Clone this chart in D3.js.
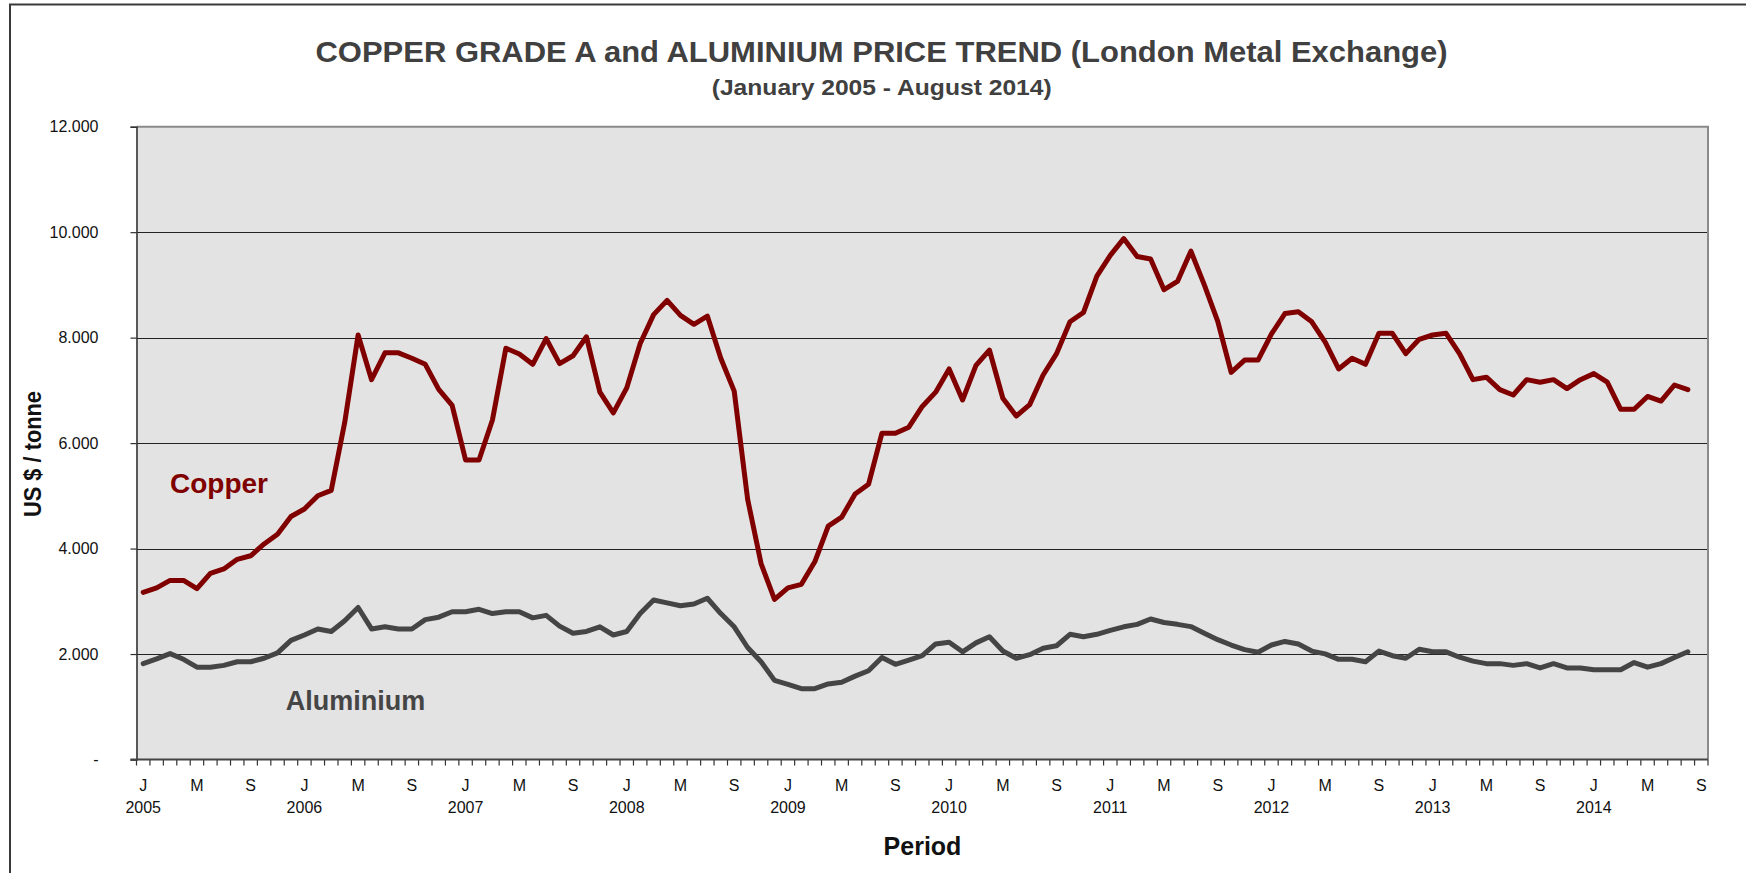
<!DOCTYPE html>
<html>
<head>
<meta charset="utf-8">
<script src="https://cdn.jsdelivr.net/npm/d3@7"></script>
<style>
html,body{margin:0;padding:0;background:#fff;}
svg{display:block;}
text{font-family:"Liberation Sans",Arial,Helvetica,sans-serif;}
</style>
</head>
<body>
<svg id="chart" width="1746" height="873"></svg>
<script>
// ---------------- DATA ----------------
const years = [2005, 2006, 2007, 2008, 2009, 2010, 2011, 2012, 2013, 2014];
const monthLetters = ["J","F","M","A","M","J","J","A","S","O","N","D"];
const labelledMonths = [0, 4, 8];           // J, M, S shown on the axis
const lastYearMonths = 9;                    // 2014: Jan..Sep (Sep empty)

// LME monthly prices, US $ / tonne, Jan 2005 - Aug 2014
const copper = [
  3170,3254,3396,3396,3240,3531,3613,3796,3863,4087,4270,4609,
  4751,5002,5104,6390,8050,7203,7711,7711,7609,7494,7020,6715,
  5679,5679,6437,7799,7690,7494,7982,7508,7657,8016,6966,6573,
  7047,7888,8436,8707,8422,8253,8409,7609,6986,4934,3715,3037,
  3254,3322,3749,4426,4595,5036,5218,6187,6187,6302,6695,6966,
  7406,6817,7474,7765,6851,6512,6729,7291,7697,8300,8476,9167,
  9560,9878,9539,9492,8910,9065,9640,9000,8310,7340,7575,7575,
  8070,8456,8490,8300,7914,7406,7609,7494,8083,8083,7697,7968,
  8050,8083,7697,7203,7250,7013,6912,7203,7155,7203,7034,7203,
  7318,7155,6641,6641,6885,6797,7102,7013
];
const aluminium = [
  1818,1907,2008,1900,1751,1751,1785,1853,1853,1920,2022,2259,
  2361,2476,2428,2632,2882,2476,2516,2476,2476,2652,2699,2801,
  2801,2848,2767,2801,2801,2686,2733,2530,2394,2428,2516,2361,
  2428,2767,3024,2970,2916,2950,3058,2767,2516,2124,1853,1500,
  1426,1344,1344,1432,1466,1581,1683,1934,1805,1886,1968,2191,
  2225,2042,2212,2327,2056,1920,1988,2110,2157,2374,2327,2374,
  2449,2516,2563,2665,2598,2563,2520,2394,2272,2171,2083,2035,
  2171,2239,2191,2056,2002,1900,1900,1853,2056,1968,1920,2090,
  2042,2042,1940,1866,1818,1818,1785,1818,1737,1818,1737,1737,
  1703,1703,1703,1839,1751,1818,1933,2042
];
const yTicks = [0, 2000, 4000, 6000, 8000, 10000, 12000];
const yTickLabels = ["-", "2.000", "4.000", "6.000", "8.000", "10.000", "12.000"];

const titleText = "COPPER GRADE A and ALUMINIUM PRICE TREND (London Metal Exchange)";
const subtitleText = "(January 2005 - August 2014)";
const yTitle = "US $ / tonne";
const xTitle = "Period";
const seriesNames = ["Copper", "Aluminium"];

// ---------------- BUILD CATEGORIES ----------------
const periods = [];
years.forEach((y, yi) => {
  const n = (yi === years.length - 1) ? lastYearMonths : 12;
  for (let m = 0; m < n; m++) periods.push({year: y, month: m, key: y + "-" + (m + 1)});
});

// ---------------- LAYOUT ----------------
const svg = d3.select("#chart");
const plot = {left: 136.5, right: 1708, top: 126.7, bottom: 759.5};

const x = d3.scaleBand().domain(periods.map(d => d.key)).range([plot.left, plot.right]).padding(0);
const y = d3.scaleLinear().domain([0, 12000]).range([plot.bottom, plot.top]);
const xc = k => x(k) + x.bandwidth() / 2;

// outer frame (top + left visible)
svg.append("path")
  .attr("d", `M10,873 V4.5 H1746`)
  .attr("fill", "none").attr("stroke", "#3a3a3a").attr("stroke-width", 2);

// plot background
svg.append("rect")
  .attr("x", plot.left).attr("y", plot.top)
  .attr("width", plot.right - plot.left).attr("height", plot.bottom - plot.top)
  .attr("fill", "#e3e3e3");

// gridlines
svg.append("g").selectAll("line")
  .data(yTicks.filter(v => v > 0 && v < 12000))
  .join("line")
  .attr("x1", plot.left).attr("x2", plot.right)
  .attr("y1", d => Math.round(y(d)) + 0.5).attr("y2", d => Math.round(y(d)) + 0.5)
  .attr("stroke", "#222").attr("stroke-width", 1);

// plot border top + right (gray)
svg.append("path")
  .attr("d", `M${plot.left},${plot.top} H${plot.right} V${plot.bottom}`)
  .attr("fill", "none").attr("stroke", "#8a8a8a").attr("stroke-width", 2);

// y axis
const yAxis = d3.axisLeft(y).tickValues(yTicks).tickSize(6).tickPadding(32)
  .tickFormat((d, i) => yTickLabels[i]);
const gy = svg.append("g").attr("transform", `translate(${plot.left},0)`).call(yAxis);
gy.select(".domain").attr("stroke", "#333").attr("stroke-width", 1.6);
gy.selectAll(".tick line").attr("stroke", "#333").attr("stroke-width", 1.2);
gy.selectAll(".tick text").attr("font-size", 16).attr("fill", "#111")
  .attr("font-family", '"Liberation Sans",Arial,Helvetica,sans-serif');

// x axis line + ticks at month boundaries
const boundaries = d3.range(periods.length + 1);
svg.append("g").selectAll("line")
  .data(boundaries)
  .join("line")
  .attr("x1", i => plot.left + i * x.step()).attr("x2", i => plot.left + i * x.step())
  .attr("y1", plot.bottom).attr("y2", plot.bottom + 6)
  .attr("stroke", "#333").attr("stroke-width", 1.2);
svg.append("line")
  .attr("x1", plot.left - 6).attr("x2", plot.right)
  .attr("y1", plot.bottom).attr("y2", plot.bottom)
  .attr("stroke", "#444").attr("stroke-width", 2);

// x labels
const labelled = periods.filter(d => labelledMonths.includes(d.month));
svg.append("g").selectAll("text")
  .data(labelled)
  .join("text")
  .attr("x", d => xc(d.key)).attr("y", 791)
  .attr("text-anchor", "middle").attr("font-size", 16).attr("fill", "#111")
  .text(d => monthLetters[d.month]);
svg.append("g").selectAll("text")
  .data(periods.filter(d => d.month === 0))
  .join("text")
  .attr("x", d => xc(d.key)).attr("y", 813)
  .attr("text-anchor", "middle").attr("font-size", 16).attr("fill", "#111")
  .text(d => d.year);

// lines
const line = d3.line().x((d, i) => xc(periods[i].key)).y(d => y(d));
svg.append("path").datum(aluminium)
  .attr("d", line).attr("fill", "none")
  .attr("stroke", "#454545").attr("stroke-width", 5)
  .attr("stroke-linejoin", "round").attr("stroke-linecap", "round");
svg.append("path").datum(copper)
  .attr("d", line).attr("fill", "none")
  .attr("stroke", "#800000").attr("stroke-width", 5)
  .attr("stroke-linejoin", "round").attr("stroke-linecap", "round");

// series labels
svg.append("text").attr("x", 170).attr("y", 493)
  .attr("font-size", 28).attr("font-weight", "bold").attr("fill", "#800000")
  .text(seriesNames[0]);
svg.append("text").attr("x", 285.7).attr("y", 710)
  .attr("font-size", 27).attr("font-weight", "bold").attr("fill", "#454545")
  .text(seriesNames[1]);

// titles
svg.append("text").attr("x", 881.5).attr("y", 61.7)
  .attr("text-anchor", "middle").attr("font-size", 30).attr("font-weight", "bold")
  .attr("fill", "#404040").attr("textLength", 1132).attr("lengthAdjust", "spacingAndGlyphs")
  .text(titleText);
svg.append("text").attr("x", 881.7).attr("y", 95)
  .attr("text-anchor", "middle").attr("font-size", 22).attr("font-weight", "bold")
  .attr("fill", "#404040").attr("textLength", 340).attr("lengthAdjust", "spacingAndGlyphs")
  .text(subtitleText);

// axis titles
svg.append("text")
  .attr("transform", `translate(40.5,454) rotate(-90)`)
  .attr("text-anchor", "middle").attr("font-size", 24).attr("font-weight", "bold")
  .attr("fill", "#111").attr("textLength", 126).attr("lengthAdjust", "spacingAndGlyphs")
  .text(yTitle);
svg.append("text").attr("x", 922.5).attr("y", 855)
  .attr("text-anchor", "middle").attr("font-size", 25).attr("font-weight", "bold")
  .attr("fill", "#111")
  .text(xTitle);
</script>
</body>
</html>
